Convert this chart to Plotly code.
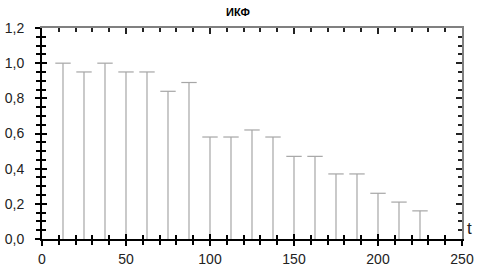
import plotly.graph_objects as go

t_vals = [12.5, 25, 37.5, 50, 62.5, 75, 87.5, 100, 112.5, 125, 137.5, 150, 162.5, 175, 187.5, 200, 212.5, 225]
ikf_vals = [1.0, 0.95, 1.0, 0.95, 0.95, 0.84, 0.89, 0.58, 0.58, 0.62, 0.58, 0.47, 0.47, 0.37, 0.37, 0.26, 0.21, 0.16]
x_ticks = [0, 50, 100, 150, 200, 250]
y_ticks = [0, 0.2, 0.4, 0.6, 0.8, 1.0, 1.2]
title_text = "ИКФ"
x_label = "t"

bar_color = "#a6a6a6"

xs, ys = [], []
for t, v in zip(t_vals, ikf_vals):
    xs += [t, t, None]
    ys += [0, v, None]

fig = go.Figure()
fig.add_trace(go.Scatter(x=xs, y=ys, mode="lines", line=dict(color=bar_color, width=1.2),
                         hoverinfo="skip", showlegend=False))
fig.add_trace(go.Scatter(x=t_vals, y=ikf_vals, mode="markers",
                         marker=dict(symbol="line-ew", size=11, line=dict(color=bar_color, width=1.2)),
                         showlegend=False))

xr = [0, 250]
yr = [0, 1.2]
font = dict(family="Liberation Sans, Arial, sans-serif", size=14, color="#222")
W, H = 480, 266
ML, MR, MT, MB = 42, 18, 28, 27

common = dict(automargin=False, showgrid=False, zeroline=False, fixedrange=True)

fig.update_layout(
    width=W, height=H,
    margin=dict(l=ML, r=MR, t=MT, b=MB, autoexpand=False),
    paper_bgcolor="white", plot_bgcolor="white",
    separators=", ",
    showlegend=False,
    font=font,
    xaxis=dict(range=xr, tickvals=x_ticks, ticks="outside", ticklen=5, tickwidth=1.5, tickcolor="#000",
               showline=True, linecolor="#000", linewidth=2,
               tickfont=font, ticklabelstandoff=1,
               minor=dict(dtick=10, tick0=0, ticks="outside", ticklen=4, tickcolor="#000", showgrid=False), **common),
    xaxis2=dict(range=xr, overlaying="x", side="bottom", tickvals=x_ticks, ticks="inside", ticklen=5,
                tickwidth=1.5, tickcolor="#000", showticklabels=False,
                minor=dict(dtick=10, tick0=0, ticks="inside", ticklen=4, tickcolor="#000", showgrid=False), **common),
    xaxis3=dict(range=xr, overlaying="x", side="top", tickvals=x_ticks, ticks="inside", ticklen=6,
                tickwidth=1.5, tickcolor="#222", showticklabels=False,
                showline=True, linecolor="#808080", linewidth=2,
                minor=dict(dtick=10, tick0=0, ticks="inside", ticklen=4, tickcolor="#222", showgrid=False), **common),
    yaxis=dict(range=yr, tickvals=y_ticks, tickformat=".1f", ticks="outside", ticklen=5, tickwidth=1.5,
               tickcolor="#000", showline=True, linecolor="#000", linewidth=2,
               tickfont=font, ticklabelstandoff=8,
               minor=dict(dtick=0.05, tick0=0, ticks="outside", ticklen=4, tickcolor="#000", showgrid=False), **common),
    yaxis2=dict(range=yr, overlaying="y", side="left", tickvals=y_ticks, ticks="inside", ticklen=5,
                tickwidth=1.5, tickcolor="#000", showticklabels=False,
                minor=dict(dtick=0.05, tick0=0, ticks="inside", ticklen=4, tickcolor="#000", showgrid=False), **common),
    yaxis3=dict(range=yr, overlaying="y", side="right", tickvals=y_ticks, ticks="inside", ticklen=6,
                tickwidth=1.5, tickcolor="#222", showticklabels=False,
                showline=True, linecolor="#808080", linewidth=2,
                minor=dict(dtick=0.05, tick0=0, ticks="inside", ticklen=4, tickcolor="#222", showgrid=False), **common),
)

pw, ph = W - ML - MR, H - MT - MB
def px2paper(px, py):
    return (px - ML) / pw, 1 - (py - MT) / ph

tx, ty = px2paper(238, 12)
lx, ly = px2paper(469, 228)
fig.add_annotation(text="<b>" + title_text + "</b>", x=tx, y=ty, xref="paper", yref="paper",
                   xanchor="center", yanchor="middle", showarrow=False,
                   font=dict(family="Liberation Sans, Arial, sans-serif", size=11, color="#000"))
fig.add_annotation(text=x_label, x=lx, y=ly, xref="paper", yref="paper",
                   xanchor="center", yanchor="middle", showarrow=False,
                   font=dict(family="Liberation Sans, Arial, sans-serif", size=17, color="#222"))

# empty traces to activate overlay axes
fig.add_trace(go.Scatter(x=[None], y=[None], xaxis="x2", yaxis="y2", showlegend=False))
fig.add_trace(go.Scatter(x=[None], y=[None], xaxis="x3", yaxis="y3", showlegend=False))

fig.write_html("out.html", config={"displayModeBar": False},
               post_script="document.body.style.margin='0';document.body.style.overflow='hidden';")
